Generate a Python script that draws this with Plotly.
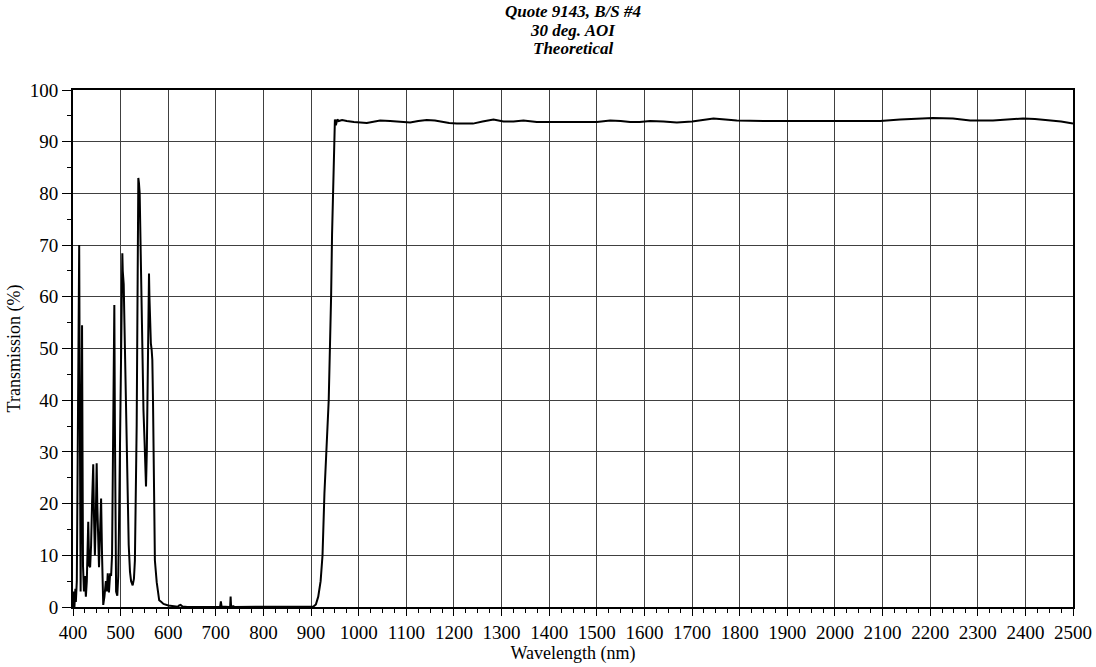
import plotly.graph_objects as go

# Wavelength (nm) and transmission (%)
wavelength = [
    400, 401, 402, 403, 405, 406, 408, 410, 412, 413, 414, 415, 416, 417, 419, 420, 421, 423, 425, 427,
    429, 432, 434, 436, 438, 440, 442.5, 444, 446, 448, 449.7, 451, 453, 454.6, 456, 458, 459, 461, 463.5,
    466, 469, 471, 473, 475.5, 478, 480, 482, 483.5, 485, 486.8, 488, 489, 490.5, 493, 495, 496.6, 498.7,
    500.8, 502.5, 503.6, 504.5, 505.6, 506.5, 508, 510.6, 514.8, 517, 519.7, 522, 525.3, 528, 530, 532,
    533.7, 535.8, 537.2, 538.5, 540, 541.4, 542.8, 545.6, 548, 550.4, 553.3, 555, 556.8, 558.5, 559.6,
    560.5, 561.7, 563.5, 565.2, 566.6, 568, 570, 572, 575.8, 578, 581, 585, 590, 600, 607, 615, 620, 623,
    626, 630, 640, 708, 709, 710.5, 712, 728, 730, 731, 732, 735, 736.5, 738, 890, 900, 905, 910, 915,
    920, 924, 928, 931, 934, 937, 940, 942, 944, 946, 948, 950, 952, 955, 958, 965, 975, 990, 1017, 1030,
    1045, 1066, 1085, 1108, 1125, 1143, 1160, 1171, 1190, 1206, 1240, 1260, 1283, 1304, 1325, 1346, 1374,
    1500, 1528, 1550, 1570, 1590, 1612, 1640, 1668, 1700, 1731, 1745, 1770, 1794, 1850, 1912, 1950, 1980,
    2017, 2095, 2137, 2170, 2206, 2248, 2284, 2332, 2360, 2395, 2420, 2452, 2475, 2500,
]
transmission = [
    0, 3, 1, 0, 3.5, 1, 5, 30, 60, 70, 45, 10, 3, 20, 54.5, 30, 8, 3, 6, 2,
    5, 16.5, 8, 7.7, 12, 20, 27.6, 18, 10, 18, 27.8, 20, 10, 7.7, 12, 20, 21, 10, 0.4,
    2, 5, 3, 6.5, 2.8, 6.5, 6, 10, 25, 45, 58.4, 35, 12, 3, 2.2, 6, 15.5, 30,
    48, 64, 68.4, 65, 62.6, 62.4, 55, 41.4, 22, 12, 6.8, 5, 4.2, 5.5, 9, 20,
    35, 64, 83, 82, 80, 71.6, 64, 47.8, 38, 31.7, 23.3, 30, 41.4, 58, 64.5,
    60, 54.2, 51, 49.7, 47.8, 40, 28.4, 9, 4.8, 3, 1.3, 1, 0.6, 0.3, 0.2, 0.1, 0.05, 0.3,
    0.4, 0.1, 0, 0, 0.1, 1.1, 0.1, 0, 0.1, 2.0, 0.1, 0, 0.25, 0, 0, 0, 0.1, 0.5, 2,
    5, 10, 22, 30, 34, 40, 50, 60, 72, 82, 90, 94.3, 93.2, 94.3, 94.0, 94.2, 94.0, 93.8, 93.6, 93.8,
    94.1, 94.0, 93.9, 93.7, 94.0, 94.2, 94.1, 93.9, 93.6, 93.5, 93.5, 93.9, 94.3, 93.9, 93.9, 94.1, 93.8,
    93.8, 94.1, 94.0, 93.8, 93.8, 94.0, 93.9, 93.7, 93.9, 94.4, 94.5, 94.3, 94.1, 94.0, 94.0, 93.9, 93.9,
    94.0, 94.0, 94.3, 94.5, 94.6, 94.5, 94.1, 94.1, 94.3, 94.5, 94.4, 94.1, 93.9, 93.5,
]

title_lines = ["Quote 9143, B/S #4", "30 deg. AOI", "Theoretical"]
x_title = "Wavelength (nm)"
y_title = "Transmission (%)"

FONT = "Liberation Serif, Times New Roman, serif"

fig = go.Figure()
fig.add_trace(go.Scatter(
    x=wavelength, y=transmission, mode="lines",
    line=dict(color="black", width=2), hoverinfo="x+y", showlegend=False,
))

# title lines centred on page rows ~12, 30, 48 (plot top at 90, height 517)
title_y = [1.151, 1.116, 1.081]
for txt, yy in zip(title_lines, title_y):
    fig.add_annotation(
        text=f"<b><i>{txt}</i></b>", xref="paper", yref="paper", x=0.5, y=yy,
        xanchor="center", yanchor="middle", showarrow=False,
        font=dict(family=FONT, size=17, color="black"),
    )

fig.update_layout(
    width=1096, height=667,
    margin=dict(l=73, r=23, t=90, b=60, autoexpand=False),
    paper_bgcolor="white", plot_bgcolor="white",
    font=dict(family=FONT, size=19, color="black"),
)
fig.update_xaxes(
    range=[400, 2500], dtick=100, tick0=400, automargin=False,
    showgrid=True, gridcolor="#404040", gridwidth=1,
    showline=True, mirror=True, linecolor="black", linewidth=2,
    ticks="outside", ticklen=7, tickcolor="black",
    minor=dict(dtick=25, ticks="outside", ticklen=4, tickcolor="black", showgrid=False),
    zeroline=False,
    title=dict(text=x_title, font=dict(family=FONT, size=18), standoff=2),
)
fig.update_yaxes(
    range=[0, 100], dtick=10, tick0=0, automargin=False,
    showgrid=True, gridcolor="#404040", gridwidth=1,
    showline=True, mirror=True, linecolor="black", linewidth=2,
    ticks="outside", ticklen=9, tickcolor="black",
    minor=dict(dtick=5, ticks="outside", ticklen=4, tickcolor="black", showgrid=False),
    zeroline=False,
    title=dict(text=y_title, font=dict(family=FONT, size=18), standoff=4),
)

fig.write_html(
    "out.html",
    config={"displayModeBar": False},
    post_script="document.body.style.margin='0';document.body.style.overflow='hidden';",
)
